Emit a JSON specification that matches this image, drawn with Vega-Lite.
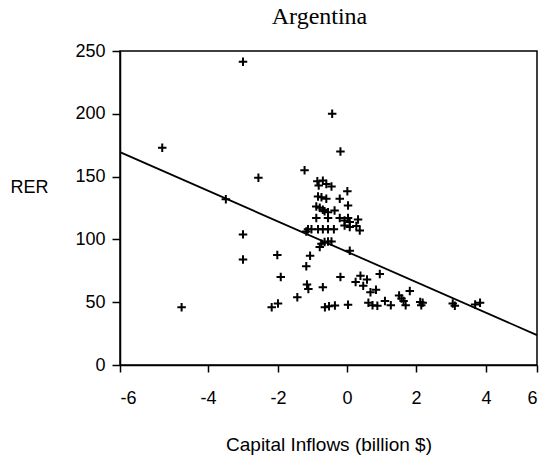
{
  "$schema": "https://vega.github.io/schema/vega-lite/v6.json",
  "autosize": "none",
  "width": 417,
  "height": 314,
  "padding": {"left": 120, "top": 51, "right": 8, "bottom": 95},
  "background": "white",
  "title": {"text": "Argentina", "font": "Liberation Serif", "fontSize": 24, "fontWeight": "normal", "color": "black", "anchor": "middle", "dx": -9, "offset": 13},
  "config": {
    "view": {"stroke": "black", "strokeWidth": 1.5},
    "axis": {"grid": false, "domainColor": "black", "domainWidth": 1.5, "tickColor": "black", "tickWidth": 1.5, "labelFont": "Liberation Sans", "labelFontSize": 18, "labelColor": "black", "titleFont": "Liberation Sans", "titleFontSize": 18, "titleFontWeight": "normal", "titleColor": "black"}
  },
  "datasets": {
    "points": [
      {"inflow": -3.00, "rer": 241.5}, {"inflow": -0.43, "rer": 200}, {"inflow": -5.04, "rer": 173}, {"inflow": -0.19, "rer": 170},
      {"inflow": -2.56, "rer": 149}, {"inflow": -1.23, "rer": 155}, {"inflow": -3.49, "rer": 132}, {"inflow": -3.00, "rer": 104},
      {"inflow": -3.00, "rer": 84}, {"inflow": -4.60, "rer": 46}, {"inflow": -2.02, "rer": 87.5}, {"inflow": -1.92, "rer": 70},
      {"inflow": -2.18, "rer": 46}, {"inflow": -2.00, "rer": 49}, {"inflow": -1.44, "rer": 54}, {"inflow": -1.18, "rer": 78.6},
      {"inflow": -1.07, "rer": 87}, {"inflow": -1.16, "rer": 64}, {"inflow": -1.12, "rer": 60.6}, {"inflow": -0.70, "rer": 62},
      {"inflow": -0.64, "rer": 46}, {"inflow": -0.52, "rer": 46.8}, {"inflow": -0.35, "rer": 47.4}, {"inflow": 0.03, "rer": 48},
      {"inflow": -0.19, "rer": 70}, {"inflow": 0.08, "rer": 91}, {"inflow": 0.39, "rer": 71}, {"inflow": 0.58, "rer": 68},
      {"inflow": 0.25, "rer": 66}, {"inflow": 0.47, "rer": 63}, {"inflow": 0.95, "rer": 72.5}, {"inflow": 0.68, "rer": 58},
      {"inflow": 0.84, "rer": 60}, {"inflow": 0.62, "rer": 49.5}, {"inflow": 0.74, "rer": 47.6}, {"inflow": 0.88, "rer": 47.1},
      {"inflow": 1.10, "rer": 51}, {"inflow": 1.27, "rer": 47.6}, {"inflow": 1.51, "rer": 55.3}, {"inflow": 1.58, "rer": 53},
      {"inflow": 1.64, "rer": 51}, {"inflow": 1.70, "rer": 47.6}, {"inflow": 1.82, "rer": 59}, {"inflow": 2.12, "rer": 50.2},
      {"inflow": 2.15, "rer": 47.6}, {"inflow": 2.19, "rer": 49.5}, {"inflow": 3.05, "rer": 49}, {"inflow": 3.11, "rer": 47.1},
      {"inflow": 3.69, "rer": 48.2}, {"inflow": 3.83, "rer": 49.5},
      {"inflow": -0.86, "rer": 146.3}, {"inflow": -0.70, "rer": 146.8}, {"inflow": -0.82, "rer": 142.9}, {"inflow": -0.60, "rer": 144.2},
      {"inflow": -0.45, "rer": 142.1}, {"inflow": 0.01, "rer": 138.3}, {"inflow": -0.84, "rer": 134.1}, {"inflow": -0.74, "rer": 133.6},
      {"inflow": -0.60, "rer": 132.3}, {"inflow": -0.21, "rer": 132.3}, {"inflow": 0.03, "rer": 127}, {"inflow": -0.89, "rer": 126.2},
      {"inflow": -0.79, "rer": 125.2}, {"inflow": -0.70, "rer": 123.6}, {"inflow": -0.65, "rer": 122.5}, {"inflow": -0.55, "rer": 121.7},
      {"inflow": -0.36, "rer": 123}, {"inflow": -0.89, "rer": 117}, {"inflow": -0.55, "rer": 117}, {"inflow": -0.21, "rer": 117},
      {"inflow": 0.03, "rer": 117}, {"inflow": -0.07, "rer": 115}, {"inflow": 0.08, "rer": 113.8}, {"inflow": 0.32, "rer": 115.9},
      {"inflow": -0.07, "rer": 111}, {"inflow": 0.08, "rer": 109.8}, {"inflow": 0.27, "rer": 110.6}, {"inflow": 0.37, "rer": 107.1},
      {"inflow": -1.13, "rer": 108}, {"inflow": -1.03, "rer": 108}, {"inflow": -0.84, "rer": 108}, {"inflow": -0.70, "rer": 108},
      {"inflow": -0.55, "rer": 108}, {"inflow": -0.38, "rer": 108}, {"inflow": -1.18, "rer": 106.3}, {"inflow": -0.74, "rer": 96.6},
      {"inflow": -0.65, "rer": 97.9}, {"inflow": -0.55, "rer": 98.4}, {"inflow": -0.79, "rer": 93.9}, {"inflow": -0.45, "rer": 98.4}
    ],
    "fit": [
      {"inflow": -6, "rer": 169.5},
      {"inflow": 6, "rer": 23.8}
    ]
  },
  "encoding": {
    "x": {
      "field": "inflow", "type": "quantitative",
      "scale": {"domain": [-6, -4, -2, 0, 2, 4, 6], "range": [0, 88, 158, 227, 296, 366, 417], "clamp": false},
      "axis": {"values": [-6, -4, -2, 0, 2, 4, 6], "labelExpr": "toString(datum.value)", "tickSize": 7, "labelPadding": 17, "title": "Capital Inflows (billion $)", "titleFontSize": 19, "titleY": 79, "titleBaseline": "middle"}
    },
    "y": {
      "field": "rer", "type": "quantitative",
      "scale": {"domain": [0, 250], "nice": false, "zero": false},
      "axis": {"values": [0, 50, 100, 150, 200, 250], "tickSize": 8, "labelPadding": 7, "title": "RER", "titleAngle": 0, "titleX": -91, "titleY": 136, "titleAlign": "center", "titleBaseline": "middle"}
    }
  },
  "layer": [
    {
      "data": {"name": "fit"},
      "mark": {"type": "line", "color": "black", "strokeWidth": 1.8},
      "encoding": {}
    },
    {
      "data": {"name": "points"},
      "mark": {"type": "point", "shape": "M-1,0H1M0,-1V1", "filled": false, "stroke": "black", "strokeWidth": 2, "size": 72, "opacity": 1}
    }
  ]
}
